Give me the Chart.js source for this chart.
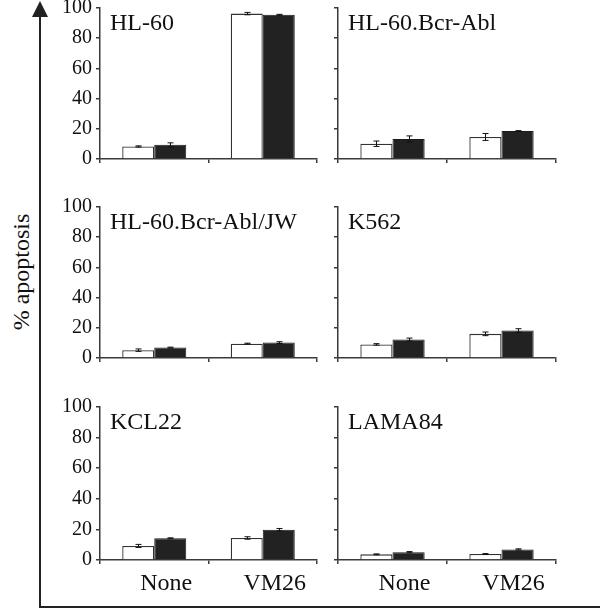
<!DOCTYPE html>
<html><head><meta charset="utf-8">
<script src="https://cdn.jsdelivr.net/npm/chart.js@4.4.0/dist/chart.umd.min.js"></script>
<style>
html,body{margin:0;padding:0;background:#fff;}
#wrap{position:relative;width:600px;height:611px;overflow:hidden;background:#fff;}
canvas{position:absolute;}
svg{position:absolute;left:0;top:0;}
</style></head><body>
<div id="wrap">
<svg width="600" height="611">
 <line x1="40" y1="12" x2="40" y2="607" stroke="#222" stroke-width="2"/>
 <polygon points="40,1 32,17 48,17" fill="#222"/>
 <line x1="39" y1="607" x2="600" y2="607" stroke="#222" stroke-width="2"/>
 <text transform="translate(29,272) rotate(-90)" text-anchor="middle" font-family="Liberation Serif" font-size="24" fill="#111">% apoptosis</text>
</svg>
</div>
<script>
// ---- data ----
const categories = ['None', 'VM26'];
const panelNames = ['HL-60', 'HL-60.Bcr-Abl', 'HL-60.Bcr-Abl/JW', 'K562', 'KCL22', 'LAMA84'];
const whiteValues = [[8.3, 96.3], [10.1, 14.6], [5.2, 9.5], [9.0, 16.0], [9.2, 14.4], [3.7, 3.9]];
const whiteErrors = [[0.4, 0.8], [1.8, 2.3], [0.8, 0.3], [0.5, 1.2], [1.0, 0.8], [0.3, 0.3]];
const blackValues = [[9.4, 95.5], [13.3, 18.5], [6.9, 10.2], [12.2, 18.2], [14.2, 19.8], [5.1, 6.9]];
const blackErrors = [[1.3, 0.3], [2.0, 0.3], [0.3, 0.6], [1.0, 1.2], [0.3, 0.8], [0.4, 0.4]];
const yMin = 0, yMax = 100, yStep = 20;

// ---- layout ----
const colGeom = [{cx: 40, cw: 290, ax0: 100, ax1: 317}, {cx: 330, cw: 270, ax0: 338, ax1: 556}];
const rowGeom = [{cy: 0, ch: 190, ay0: 8, ay1: 159}, {cy: 190, ch: 190, ay0: 207, ay1: 358}, {cy: 380, ch: 222, ay0: 407, ay1: 560}];
const SERIF = '"Liberation Serif", "Times New Roman", serif';
const AXIS = '#3a3a3a';
const TEXT = '#111';

const errPlugin = {
  id: 'errBars',
  afterDatasetsDraw(chart) {
    const ctx = chart.ctx, ys = chart.scales.y;
    ctx.save();
    ctx.strokeStyle = '#111';
    ctx.lineWidth = 1;
    chart.data.datasets.forEach((ds, di) => {
      const meta = chart.getDatasetMeta(di);
      meta.data.forEach((el, j) => {
        const e = ds.errors[j];
        const v = ds.data[j];
        const t = ys.getPixelForValue(v + e), b = ys.getPixelForValue(v - e);
        const x = Math.round(el.x) + 0.5;
        ctx.beginPath();
        ctx.moveTo(x, t); ctx.lineTo(x, b);
        ctx.moveTo(x - 3, t); ctx.lineTo(x + 3, t);
        ctx.moveTo(x - 3, b); ctx.lineTo(x + 3, b);
        ctx.stroke();
      });
    });
    ctx.restore();
  }
};
const titlePlugin = {
  id: 'panelTitle',
  afterDraw(chart, args, opts) {
    const ctx = chart.ctx, a = chart.chartArea;
    ctx.save();
    ctx.fillStyle = TEXT;
    ctx.font = '24px ' + SERIF;
    ctx.textBaseline = 'alphabetic';
    ctx.textAlign = 'left';
    ctx.fillText(opts.text, a.left + 10, a.top + 22);
    ctx.restore();
  }
};

const wrap = document.getElementById('wrap');
panelNames.forEach((name, i) => {
  const col = i % 2, row = Math.floor(i / 2);
  const C = colGeom[col], R = rowGeom[row];
  const cv = document.createElement('canvas');
  cv.width = C.cw; cv.height = R.ch;
  cv.style.left = C.cx + 'px'; cv.style.top = R.cy + 'px';
  cv.style.width = C.cw + 'px'; cv.style.height = R.ch + 'px';
  wrap.appendChild(cv);
  const xH = R.cy + R.ch - R.ay1;
  const yW = C.ax0 - C.cx;
  new Chart(cv, {
    type: 'bar',
    data: {
      labels: categories,
      datasets: [
        {data: whiteValues[i], errors: whiteErrors[i], backgroundColor: '#ffffff', borderColor: '#333', borderWidth: 1.3, categoryPercentage: 0.59, barPercentage: 1.0},
        {data: blackValues[i], errors: blackErrors[i], backgroundColor: '#222222', borderColor: '#1a1a1a', borderWidth: 1, categoryPercentage: 0.59, barPercentage: 1.0}
      ]
    },
    options: {
      responsive: false, animation: false, devicePixelRatio: 1,
      layout: {padding: {top: R.ay0 - R.cy, right: C.cx + C.cw - C.ax1, left: 0, bottom: 0}},
      plugins: {legend: {display: false}, tooltip: {enabled: false}, title: {display: false}, panelTitle: {text: name}},
      scales: {
        x: {
          type: 'category', offset: true,
          grid: {offset: true, drawOnChartArea: false, drawTicks: true, tickLength: 4, color: AXIS, lineWidth: 1.5},
          border: {display: true, color: AXIS, width: 1.5},
          ticks: {display: row === 2, labelOffset: 12, padding: 5, color: TEXT, font: {family: SERIF, size: 24}, maxRotation: 0},
          afterFit(s) { s.height = xH; s.paddingLeft = 0; s.paddingRight = 0; }
        },
        y: {
          min: yMin, max: yMax,
          grid: {drawOnChartArea: false, drawTicks: true, tickLength: 4, color: AXIS, lineWidth: 1.5},
          border: {display: true, color: AXIS, width: 1.5},
          ticks: {stepSize: yStep, display: col === 0, padding: 4, color: TEXT, font: {family: SERIF, size: 20}},
          afterFit(s) { s.width = yW; s.paddingTop = 0; s.paddingBottom = 0; }
        }
      }
    },
    plugins: [errPlugin, titlePlugin]
  });
});
</script>
</body></html>
